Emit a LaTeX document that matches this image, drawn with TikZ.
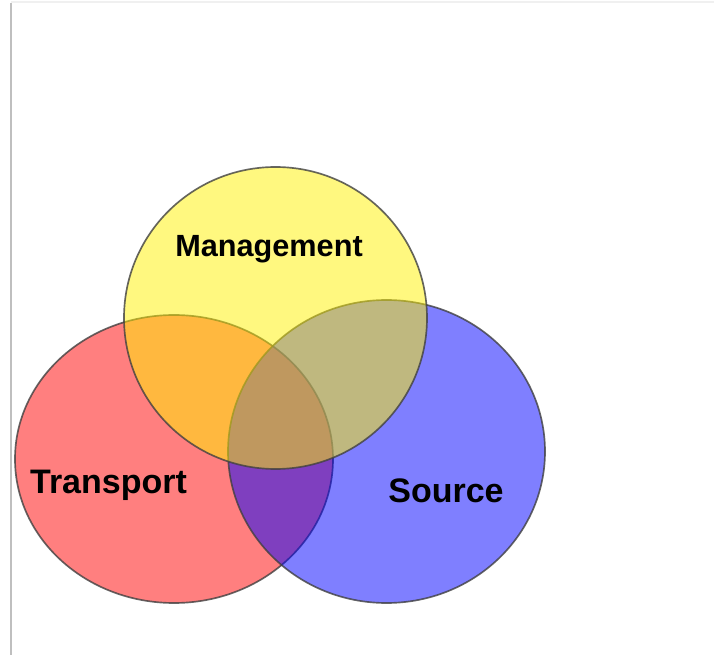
\documentclass[tikz,border=0pt]{standalone}
\usepackage{fontspec}
\setmainfont{Liberation Sans}
\usetikzlibrary{shapes.geometric}

\begin{document}
\begin{tikzpicture}[x=0.75pt, y=-0.75pt]
    \tikzset{set/.style = {shape=ellipse, draw=black!75, line width=1.25pt, fill opacity=0.5, draw opacity=0.8, inner sep=0pt}}
    \tikzset{setlabel/.style = {anchor=base, font=\fontsize{25.5}{30}\selectfont\bfseries, text=black}}

    \useasboundingbox (0,0) rectangle (714,655);
    \fill[white] (0,0) rectangle (714,655);
    \draw[black!25, line width=0.8pt] (11,3) -- (11,655);
    \draw[black!6, line width=0.8pt] (11,2) -- (714,2);

    % sets
    \node[set, fill=red, minimum width=238.5pt, minimum height=216pt] (transport) at (174,459) {};
    \node[set, fill=blue, minimum width=237.75pt, minimum height=227.25pt] (source) at (386.5,451.5) {};
    \node[set, fill=yellow, minimum width=227.25pt, minimum height=226.5pt] (management) at (275.5,318) {};

    % labels
    \node[setlabel, font=\fontsize{23}{28}\selectfont\bfseries] (managementlabel) at (269,257) {Management};
    \node[setlabel] (transportlabel) at (108.5,494) {Transport};
    \node[setlabel] (sourcelabel) at (446,503) {Source};
\end{tikzpicture}
\end{document}
